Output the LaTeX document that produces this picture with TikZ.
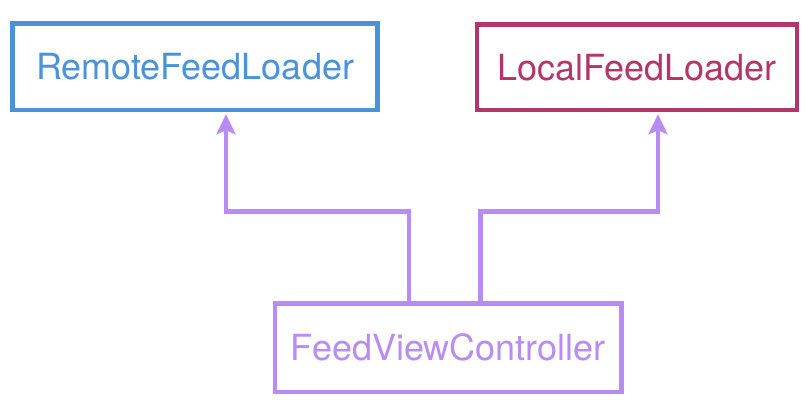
\documentclass[tikz,border=0pt]{standalone}
\usepackage{fontspec}
\setmainfont{TeX Gyre Heros}
\usetikzlibrary{arrows.meta}
\definecolor{remoteblue}{RGB}{74,146,218}
\definecolor{localred}{RGB}{180,52,108}
\definecolor{viewpurple}{RGB}{184,140,244}
\tikzset{
 loader/.style={draw, line width=4.5pt, inner sep=0pt, font=\fontsize{36}{40}\selectfont},
 uses/.style={draw=viewpurple, line width=4.5pt, -{Stealth[length=20pt,width=19pt,inset=4pt]}, shorten >=2pt}
}
\begin{document}
\begin{tikzpicture} [x=1pt, y=-1pt]
 \useasboundingbox (0,0) rectangle (812,406);
 \node [loader, draw=remoteblue, text=remoteblue, minimum width=365pt, minimum height=86.5pt] (remote) at (195,66.75) {RemoteFeedLoader};
 \node [loader, draw=localred, text=localred, minimum width=320pt, minimum height=85.5pt] (local) at (637,67.25) {LocalFeedLoader};
 \node [loader, draw=viewpurple, text=viewpurple, minimum width=346.5pt, minimum height=88.5pt] (view) at (448.25,347.75) {FeedViewController};
 \draw [uses] ([xshift=-39.5pt]view.north) -- ++(0,-89.5) -| ([xshift=31pt]remote.south);
 \draw [uses] ([xshift=32pt]view.north) -- ++(0,-89.5) -| ([xshift=21pt]local.south);
\end{tikzpicture}
\end{document}
